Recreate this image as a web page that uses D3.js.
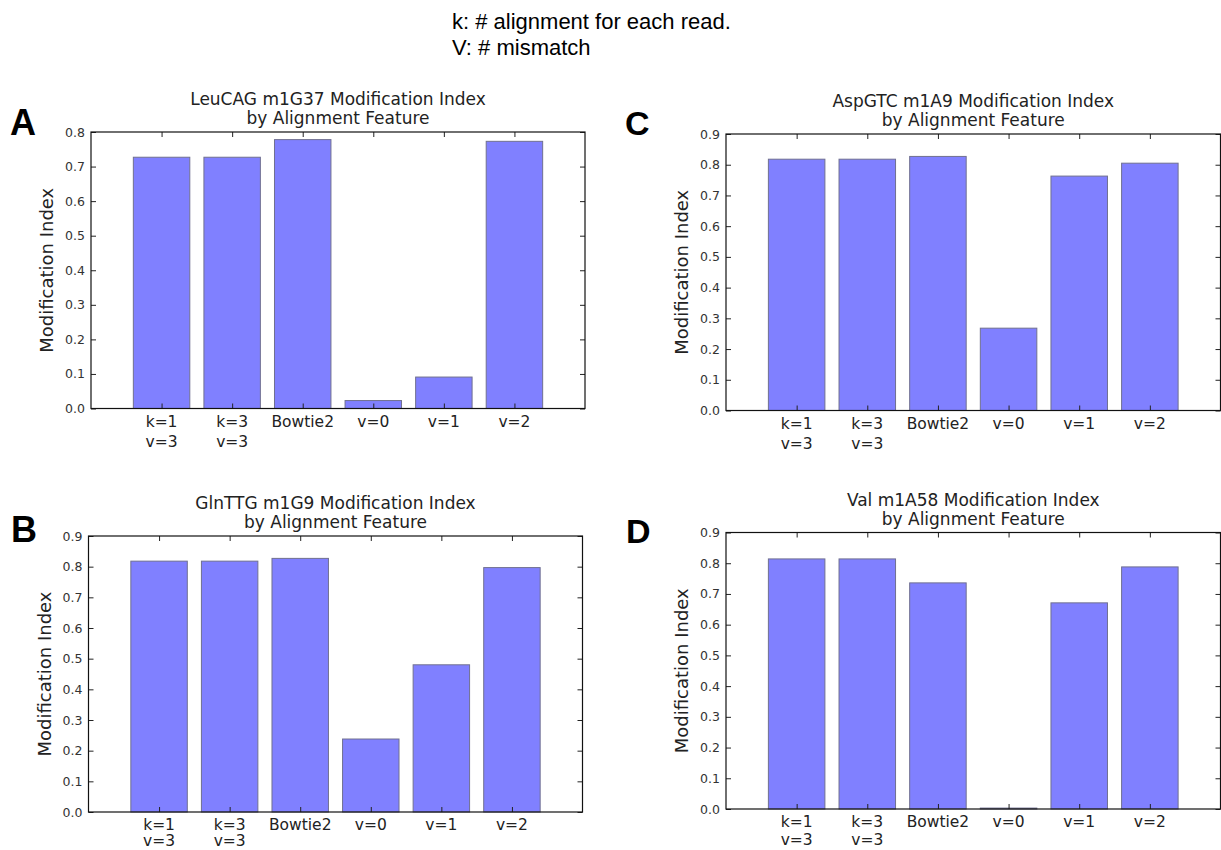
<!DOCTYPE html>
<html>
<head>
<meta charset="utf-8">
<script src="https://cdn.jsdelivr.net/npm/d3@7"></script>
<style>
  html, body { margin: 0; padding: 0; background: #fff; }
  svg { display: block; }
</style>
</head>
<body>
<svg id="fig"></svg>
<script>
// categories (two-line tick labels)
const categories = [["k=1", "v=3"], ["k=3", "v=3"], ["Bowtie2"], ["v=0"], ["v=1"], ["v=2"]];

// modification index per panel
const leuCAG = [0.727, 0.727, 0.778, 0.023, 0.091, 0.773];
const glnTTG = [0.818, 0.818, 0.827, 0.238, 0.480, 0.797];
const aspGTC = [0.818, 0.818, 0.827, 0.268, 0.763, 0.805];
const valA58 = [0.814, 0.814, 0.736, 0.003, 0.671, 0.788];

const yTicksA = d3.range(0, 9).map(d => d / 10);
const yTicks9 = d3.range(0, 10).map(d => d / 10);

const header = ["k: # alignment for each read.", "V: # mismatch"];

const W = 1221, H = 850;
const svg = d3.select("#fig").attr("width", W).attr("height", H);

const FONT = "'DejaVu Sans', sans-serif";
const barFill = "#8080ff";
const barEdge = "#707090";

// header note
svg.append("g")
  .selectAll("text")
  .data(header)
  .join("text")
  .attr("x", 452)
  .attr("y", (d, i) => 29 + i * 26)
  .attr("font-family", "'Liberation Sans', Arial, sans-serif")
  .attr("font-size", 22)
  .attr("fill", "#000")
  .text(d => d);

function drawPanel(cfg) {
  const { letter, lx, ly, lsize, title, values, yMax, yTicks, left, top, width, height } = cfg;
  const labGap = cfg.labGap || [18.5, 38.5];

  const x = d3.scaleLinear().domain([-1, 6]).range([left, left + width]);
  const y = d3.scaleLinear().domain([0, yMax]).range([top + height, top]);
  const g = svg.append("g");

  // panel letter
  svg.append("text")
    .attr("x", lx)
    .attr("y", ly)
    .attr("font-family", "'Liberation Sans', Arial, sans-serif")
    .attr("font-weight", "bold")
    .attr("font-size", lsize)
    .text(letter);

  // title
  const t = g.append("text")
    .attr("text-anchor", "middle")
    .attr("font-family", FONT)
    .attr("font-size", 17)
    .attr("fill", "#222");
  title.forEach((line, i) => {
    t.append("tspan")
      .attr("x", left + width / 2)
      .attr("y", top - 27 + i * 19.3)
      .text(line);
  });

  // bars
  g.selectAll("rect.bar")
    .data(values)
    .join("rect")
    .attr("class", "bar")
    .attr("x", (d, i) => x(i - 0.4))
    .attr("width", x(0.8) - x(0))
    .attr("y", d => y(d))
    .attr("height", d => y(0) - y(d))
    .attr("fill", barFill)
    .attr("stroke", barEdge)
    .attr("stroke-width", 1);

  // y axes, ticks inside on both sides
  const yl = g.append("g")
    .attr("transform", `translate(${left},0)`)
    .call(d3.axisLeft(y).tickValues(yTicks).tickFormat(d3.format(".1f"))
      .tickSizeInner(-5).tickSizeOuter(0).tickPadding(6));
  const yr = g.append("g")
    .attr("transform", `translate(${left + width},0)`)
    .call(d3.axisRight(y).tickValues(yTicks).tickFormat("")
      .tickSizeInner(-5).tickSizeOuter(0));

  // x axes, ticks at bar centres
  const xb = g.append("g")
    .attr("transform", `translate(0,${top + height})`)
    .call(d3.axisBottom(x).tickValues(d3.range(categories.length)).tickFormat("")
      .tickSizeInner(-5).tickSizeOuter(0));
  const xt = g.append("g")
    .attr("transform", `translate(0,${top})`)
    .call(d3.axisTop(x).tickValues(d3.range(categories.length)).tickFormat("")
      .tickSizeInner(-5).tickSizeOuter(0));

  [yl, yr, xb, xt].forEach(a => {
    a.select(".domain").remove();
    a.selectAll("line").attr("stroke", "#222").attr("stroke-width", 1);
  });

  yl.selectAll("text")
    .attr("font-family", FONT)
    .attr("font-size", 12.5)
    .attr("fill", "#333");

  // category labels
  const lab = g.append("g")
    .selectAll("text")
    .data(categories)
    .join("text")
    .attr("text-anchor", "middle")
    .attr("font-family", FONT)
    .attr("font-size", 15.5)
    .attr("fill", "#222");
  lab.each(function (lines, i) {
    lines.forEach((line, j) => {
      d3.select(this).append("tspan")
        .attr("x", x(i))
        .attr("y", top + height + labGap[j])
        .text(line);
    });
  });

  // y label
  g.append("text")
    .attr("transform", `translate(${left - 38},${top + height / 2}) rotate(-90)`)
    .attr("text-anchor", "middle")
    .attr("font-family", FONT)
    .attr("font-size", 18)
    .attr("fill", "#222")
    .text("Modification Index");

  // frame
  g.append("rect")
    .attr("x", left)
    .attr("y", top)
    .attr("width", width)
    .attr("height", height)
    .attr("fill", "none")
    .attr("stroke", "#111")
    .attr("stroke-width", 1.2);
}

drawPanel({
  letter: "A", lx: 10, ly: 135, lsize: 36,
  title: ["LeuCAG m1G37 Modification Index", "by Alignment Feature"],
  values: leuCAG, yMax: 0.8, yTicks: yTicksA,
  left: 91, top: 132, width: 494, height: 276.5
});
drawPanel({
  letter: "C", lx: 625, ly: 135, lsize: 34,
  title: ["AspGTC m1A9 Modification Index", "by Alignment Feature"],
  values: aspGTC, yMax: 0.9, yTicks: yTicks9,
  left: 726, top: 134, width: 494.5, height: 276.5
});
drawPanel({
  letter: "B", lx: 11, ly: 542, lsize: 36,
  title: ["GlnTTG m1G9 Modification Index", "by Alignment Feature"],
  values: glnTTG, yMax: 0.9, yTicks: yTicks9,
  left: 88.5, top: 536, width: 494, height: 276,
  labGap: [17.5, 34]
});
drawPanel({
  letter: "D", lx: 626, ly: 543, lsize: 34,
  title: ["Val m1A58 Modification Index", "by Alignment Feature"],
  values: valA58, yMax: 0.9, yTicks: yTicks9,
  left: 726, top: 532.5, width: 494.5, height: 276.5,
  labGap: [18, 35.5]
});
</script>
</body>
</html>
